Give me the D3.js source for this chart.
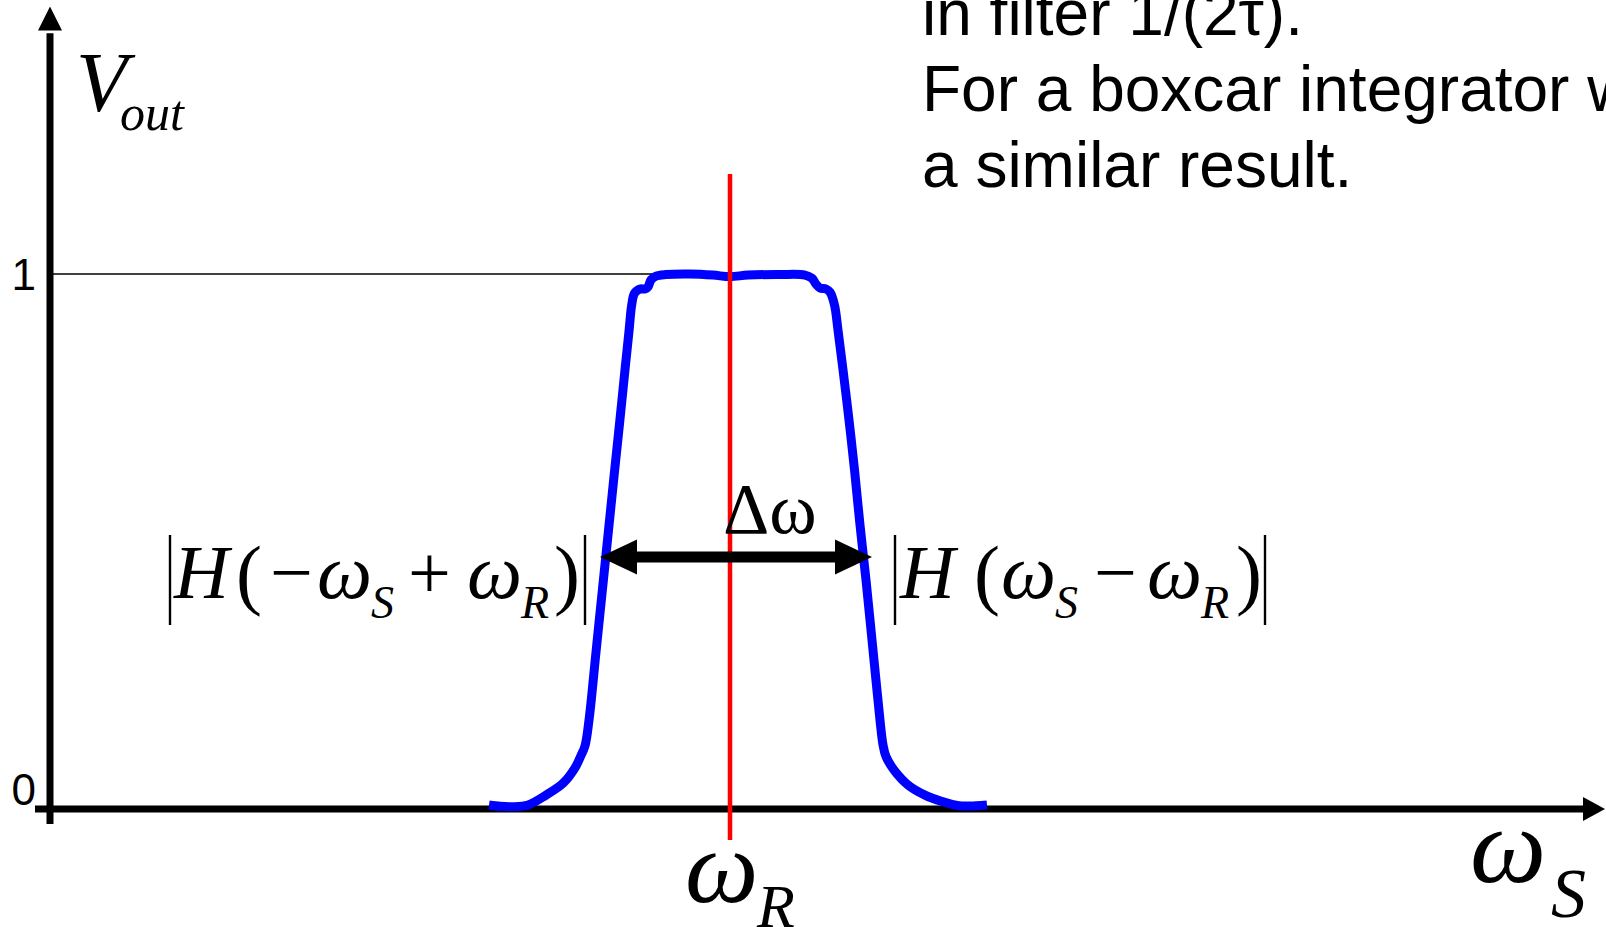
<!DOCTYPE html>
<html>
<head>
<meta charset="utf-8">
<script src="https://cdn.jsdelivr.net/npm/d3@7"></script>
<style>
  html, body { margin: 0; padding: 0; background: #fff; overflow: hidden; }
  svg { display: block; }
</style>
</head>
<body>
<svg id="chart" width="1606" height="927"></svg>
<script>
// Signal frequency (offset from the reference frequency ωR) for the output response
const omegaS = [
  -2.41, -2.30, -2.18, -2.02, -1.84, -1.67, -1.55, -1.49, -1.45, -1.41,
  -1.338, -1.266, -1.215, -1.153, -1.101, -1.05, -1.009, -0.983, -0.955, -0.90,
  -0.85, -0.82, -0.79, -0.74, -0.64, -0.40, -0.17, 0.00, 0.18, 0.50,
  0.75, 0.82, 0.86, 0.90, 0.96, 1.00, 1.045, 1.08, 1.13, 1.19,
  1.245, 1.30, 1.36, 1.43, 1.50, 1.53, 1.56, 1.64, 1.78, 1.95,
  2.12, 2.29, 2.46, 2.57
];
// Normalised output amplitude Vout
const vOut = [
  0.0075, 0.005, 0.0043, 0.0075, 0.026, 0.048, 0.077, 0.100, 0.118, 0.166,
  0.297, 0.428, 0.521, 0.634, 0.727, 0.821, 0.895, 0.942, 0.964, 0.972,
  0.972, 0.976, 0.989, 0.996, 0.999, 1.000, 0.998, 0.995, 0.998, 0.999,
  0.998, 0.992, 0.981, 0.974, 0.972, 0.966, 0.942, 0.895, 0.821, 0.727,
  0.634, 0.531, 0.428, 0.297, 0.166, 0.120, 0.098, 0.073, 0.045, 0.026,
  0.014, 0.006, 0.006, 0.0075
];
const yTicks = [0, 1];
const yTickLabels = ["0", "1"];
const omegaR = 0;
// Bandwidth marker: level and the two edges of the passband
const bandLevel = 0.471;
const bandEdges = [-1.30, 1.42];
const noteLines = ["in filter 1/(2τ).", "For a boxcar integrator w", "a similar result."];

const svg = d3.select("#chart");
const x = d3.scaleLinear().domain([-6.8, 8.75]).range([50, 1605]);
const y = d3.scaleLinear().domain([0, 1]).range([809, 274]);

const serif = "'Liberation Serif', 'Times New Roman', serif";
const sans = "'Liberation Sans', Arial, sans-serif";

// ---- axes ----
const axisW = 7;
svg.append("line")
  .attr("x1", x(-6.95)).attr("x2", x(8.55))
  .attr("y1", y(0)).attr("y2", y(0))
  .attr("stroke", "#000").attr("stroke-width", axisW);
svg.append("path")
  .attr("d", `M${x(8.75)},${y(0)} L${x(8.75) - 22},${y(0) - 12} L${x(8.75) - 22},${y(0) + 12} Z`)
  .attr("fill", "#000");

svg.append("line")
  .attr("x1", x(-6.8)).attr("x2", x(-6.8))
  .attr("y1", y(-0.028)).attr("y2", y(1.45))
  .attr("stroke", "#000").attr("stroke-width", axisW);
svg.append("path")
  .attr("d", `M${x(-6.8)},${y(1.5)} L${x(-6.8) - 12},${y(1.5) + 24} L${x(-6.8) + 12},${y(1.5) + 24} Z`)
  .attr("fill", "#000");

// tick labels
svg.selectAll("text.ytick").data(yTicks).enter().append("text")
  .attr("class", "ytick")
  .attr("x", 36)
  .attr("y", (d, i) => i === 0 ? y(d) - 4 : y(d) + 16)
  .attr("text-anchor", "end")
  .attr("font-family", sans).attr("font-size", 44)
  .text((d, i) => yTickLabels[i]);

// reference level at Vout = 1
svg.append("line")
  .attr("x1", x(-6.8)).attr("x2", x(0.15))
  .attr("y1", y(1)).attr("y2", y(1))
  .attr("stroke", "#000").attr("stroke-width", 1.6);

// ---- response curve ----
const pts = omegaS.map((d, i) => [d, vOut[i]]);
const line = d3.line().x(d => x(d[0])).y(d => y(d[1])).curve(d3.curveCatmullRom.alpha(0.5));
svg.append("path")
  .attr("d", line(pts))
  .attr("fill", "none")
  .attr("stroke", "#0000ff")
  .attr("stroke-width", 9)
  .attr("stroke-linejoin", "round");

// ---- reference frequency marker ----
svg.append("line")
  .attr("x1", x(omegaR)).attr("x2", x(omegaR))
  .attr("y1", y(1.187)).attr("y2", y(-0.058))
  .attr("stroke", "#ff0000").attr("stroke-width", 4.5);

// ---- bandwidth double arrow ----
const ax1 = x(bandEdges[0]), ax2 = x(bandEdges[1]), ay = y(bandLevel);
const headL = 37, headH = 17.5;
svg.append("line")
  .attr("x1", ax1 + headL - 2).attr("x2", ax2 - headL + 2)
  .attr("y1", ay).attr("y2", ay)
  .attr("stroke", "#000").attr("stroke-width", 11);
svg.append("path")
  .attr("d", `M${ax1},${ay} L${ax1 + headL},${ay - headH} L${ax1 + headL},${ay + headH} Z`)
  .attr("fill", "#000");
svg.append("path")
  .attr("d", `M${ax2},${ay} L${ax2 - headL},${ay - headH} L${ax2 - headL},${ay + headH} Z`)
  .attr("fill", "#000");
svg.append("text")
  .attr("x", x(omegaR) - 7).attr("y", ay - 24)
  .attr("font-family", serif).attr("font-size", 72)
  .text("Δω");

// ---- math labels: one text element, each piece placed as a tspan ----
function mathLabel(pieces) {
  const t = svg.append("text").attr("font-family", serif);
  pieces.forEach(p => {
    t.append("tspan")
      .attr("x", p.x).attr("y", p.y)
      .attr("font-size", p.s)
      .attr("font-style", p.i ? "italic" : "normal")
      .text(p.t);
  });
  return t;
}
function absBars(xa, xb) {
  [xa, xb].forEach(xx => svg.append("line")
    .attr("x1", xx).attr("x2", xx).attr("y1", 535).attr("y2", 625)
    .attr("stroke", "#000").attr("stroke-width", 2.4));
}

// |H(−ωS + ωR)|
absBars(170, 585);
mathLabel([
  { t: "H", x: 174, y: 598, s: 76, i: true },
  { t: "(", x: 236, y: 600, s: 78 },
  { t: "−", x: 270, y: 598, s: 76 },
  { t: "ω", x: 317, y: 598, s: 78, i: true },
  { t: "S", x: 371, y: 618, s: 46, i: true },
  { t: "+", x: 408, y: 598, s: 76 },
  { t: "ω", x: 467, y: 598, s: 78, i: true },
  { t: "R", x: 521, y: 618, s: 46, i: true },
  { t: ")", x: 554, y: 600, s: 78 }
]);

// |H(ωS − ωR)|
absBars(895, 1265);
mathLabel([
  { t: "H", x: 900, y: 598, s: 76, i: true },
  { t: "(", x: 974, y: 600, s: 78 },
  { t: "ω", x: 1001, y: 598, s: 78, i: true },
  { t: "S", x: 1055, y: 618, s: 46, i: true },
  { t: "−", x: 1094, y: 598, s: 76 },
  { t: "ω", x: 1147, y: 598, s: 78, i: true },
  { t: "R", x: 1201, y: 618, s: 46, i: true },
  { t: ")", x: 1236, y: 600, s: 78 }
]);

// axis titles
mathLabel([
  { t: "V", x: 76, y: 111, s: 84, i: true },
  { t: "out", x: 120, y: 130, s: 50, i: true }
]);
mathLabel([
  { t: "ω", x: x(omegaR) - 45, y: 902, s: 104, i: true },
  { t: "R", x: x(omegaR) + 27, y: 927, s: 62, i: true }
]);
mathLabel([
  { t: "ω", x: 1470, y: 882, s: 108, i: true },
  { t: "S", x: 1551, y: 917, s: 70, i: true }
]);

// ---- note text ----
svg.selectAll("text.note").data(noteLines).enter().append("text")
  .attr("class", "note")
  .attr("x", 922)
  .attr("y", (d, i) => 35 + i * 76)
  .attr("font-family", sans).attr("font-size", 64)
  .text(d => d);
</script>
</body>
</html>
